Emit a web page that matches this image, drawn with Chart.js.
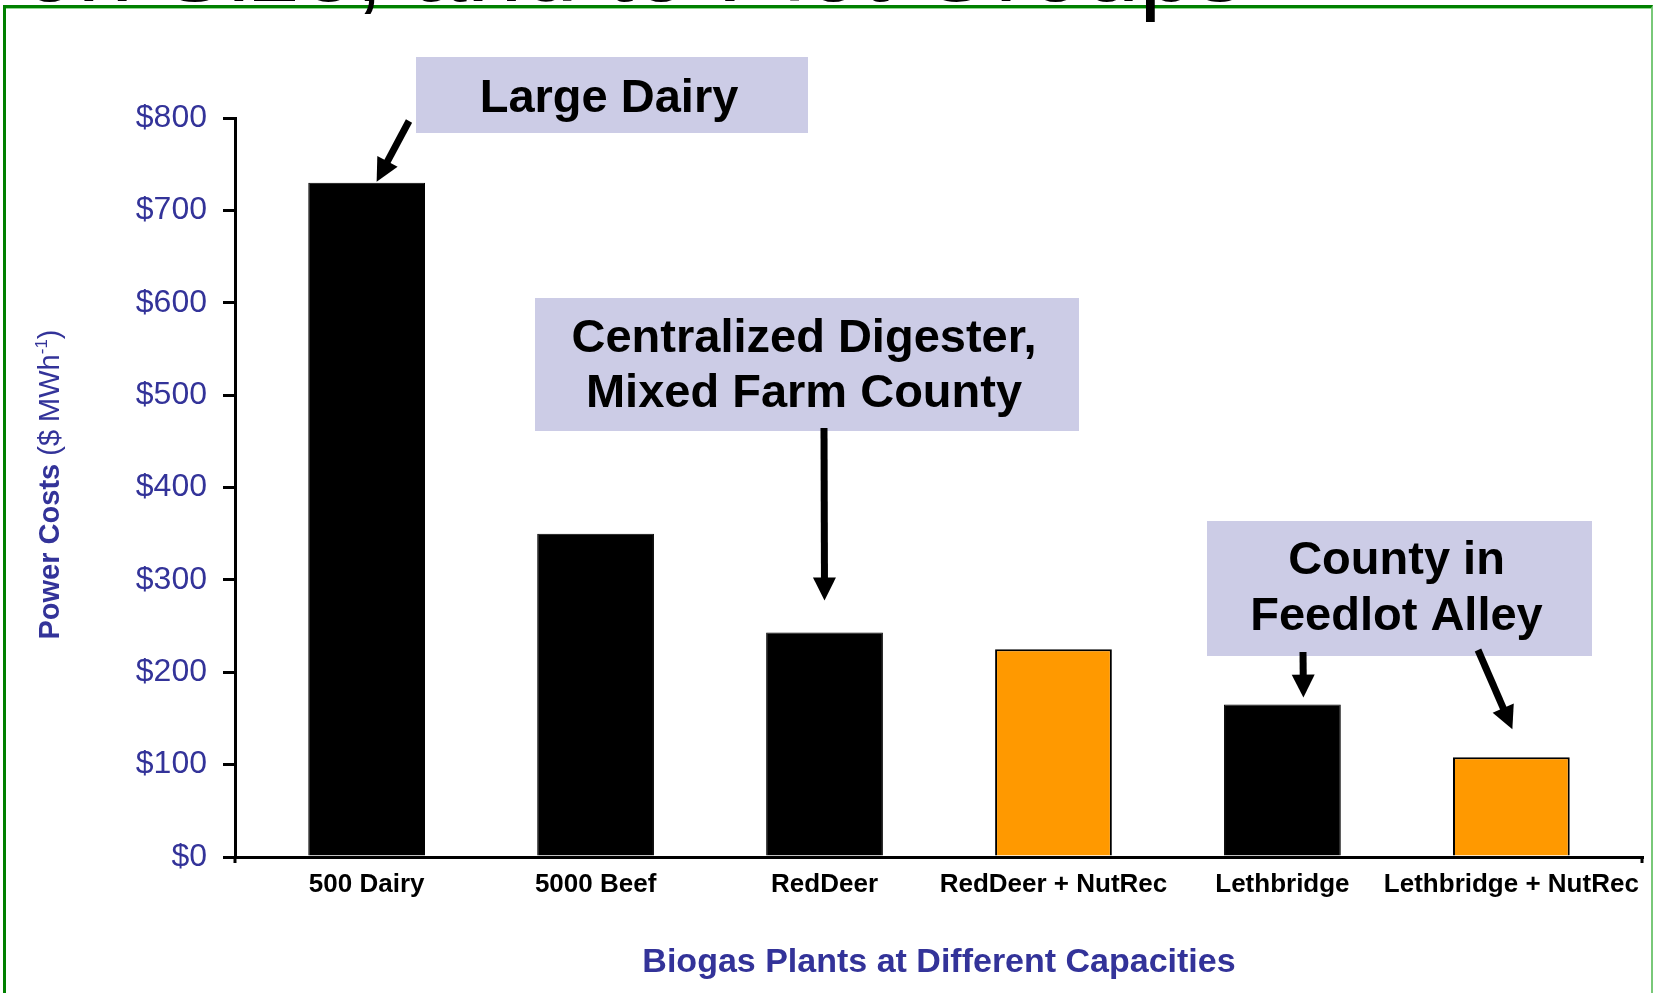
<!DOCTYPE html>
<html>
<head>
<meta charset="utf-8">
<script src="https://cdn.jsdelivr.net/npm/chart.js@4.4.1/dist/chart.umd.min.js"></script>
<style>
  html, body { margin: 0; padding: 0; background: #fff; }
  body { width: 1656px; height: 993px; position: relative; overflow: hidden; }
  #frame {
    position: absolute; left: 3px; top: 5px; width: 1650px; height: 1100px;
    box-sizing: border-box;
    border-top: 3px solid #008000; border-left: 3px solid #008000; border-right: 2px solid #79c879;
    box-shadow: inset 0 1px 0 #8fd88f;
  }
  #chart { position: absolute; left: 0; top: 0; }
  /* slide title, only its lower edge shows above the frame */
  #slideTitle {
    position: absolute; left: 22px; top: -84px;
    font: 100px/100px 'Liberation Sans', Arial, sans-serif; color: #000; white-space: nowrap;
  }
</style>
</head>
<body>
<div id="frame"></div>
<canvas id="chart" width="1656" height="993"></canvas>
<div id="slideTitle">on Size, and to Plot Groups</div>
<script>
// ── data ──
const categories = ['500 Dairy', '5000 Beef', 'RedDeer', 'RedDeer + NutRec', 'Lethbridge', 'Lethbridge + NutRec'];
const powerCosts = [730, 350, 243, 225, 165, 108];
const yMin = 0, yMax = 800, yStep = 100;

const FONT = "'Liberation Sans', Arial, sans-serif";
const BLUE = '#333399';
const LAVENDER = '#CCCCE6';

// nutrient-recovery options are drawn orange
const barFill = categories.map(c => c.includes('NutRec') ? '#FF9900' : '#000000');
const barBorder = categories.map(c => c.includes('NutRec') ? 2 : 1);

// call-out boxes (pixels) and arrows that point at bars (bar index + small offset)
const callouts = [
  { lines: ['Large Dairy'], box: [416, 57, 808, 133], textY: [99],
    arrows: [{ from: [409, 121], bar: 0, dx: 10, gap: 1 }] },
  { lines: ['Centralized Digester,', 'Mixed Farm County'], box: [535, 298, 1079, 431], textY: [339, 394],
    arrows: [{ from: [824, 428], bar: 2, dx: 0, gap: 32 }] },
  { lines: ['County in', 'Feedlot Alley'], box: [1207, 521, 1592, 656], textY: [561, 617],
    arrows: [{ from: [1303, 652], bar: 4, dx: 21, gap: 7 }, { from: [1478, 650], bar: 5, dx: 1, gap: 28 }] },
];

Chart.defaults.font.family = FONT;

function drawArrow(ctx, x0, y0, x1, y1) {
  const head = 23, half = 11.5;
  const len = Math.hypot(x1 - x0, y1 - y0);
  const ux = (x1 - x0) / len, uy = (y1 - y0) / len;
  const bx = x1 - ux * head, by = y1 - uy * head;
  ctx.strokeStyle = '#000'; ctx.fillStyle = '#000'; ctx.lineWidth = 7; ctx.lineCap = 'butt';
  ctx.beginPath(); ctx.moveTo(x0, y0); ctx.lineTo(bx + ux * 2, by + uy * 2); ctx.stroke();
  ctx.beginPath();
  ctx.moveTo(x1, y1);
  ctx.lineTo(bx - uy * half, by + ux * half);
  ctx.lineTo(bx + uy * half, by - ux * half);
  ctx.closePath(); ctx.fill();
}

const calloutPlugin = {
  id: 'callouts',
  afterDraw(chart) {
    const { ctx, scales: { x, y } } = chart;
    ctx.save();
    callouts.forEach(c => {
      const [l, t, r, b] = c.box;
      ctx.fillStyle = LAVENDER;
      ctx.fillRect(l, t, r - l, b - t);
      ctx.fillStyle = '#000';
      ctx.font = 'bold 47px ' + FONT;
      ctx.textAlign = 'center'; ctx.textBaseline = 'middle';
      c.lines.forEach((line, i) => ctx.fillText(line, (l + r) / 2 - 3, c.textY[i]));
      c.arrows.forEach(a => {
        const tx = x.getPixelForValue(a.bar) + a.dx;
        const ty = y.getPixelForValue(powerCosts[a.bar]) - a.gap;
        drawArrow(ctx, a.from[0], a.from[1], tx, ty);
      });
    });
    ctx.restore();
  }
};

// y title with bold / regular / superscript parts
const yTitlePlugin = {
  id: 'yTitle',
  afterDraw(chart) {
    const { ctx, chartArea } = chart;
    const parts = [
      { text: 'Power Costs', font: 'bold 29px ' + FONT, rise: 0 },
      { text: ' ($ MWh', font: '29px ' + FONT, rise: 0 },
      { text: '-1', font: '17px ' + FONT, rise: 12 },
      { text: ')', font: '29px ' + FONT, rise: 0 },
    ];
    ctx.save();
    let total = 0;
    parts.forEach(p => { ctx.font = p.font; p.w = ctx.measureText(p.text).width; total += p.w; });
    ctx.translate(59, (chartArea.top + chartArea.bottom) / 2 - 3);
    ctx.rotate(-Math.PI / 2);
    ctx.fillStyle = BLUE; ctx.textAlign = 'left'; ctx.textBaseline = 'alphabetic';
    let px = -total / 2;
    parts.forEach(p => { ctx.font = p.font; ctx.fillText(p.text, px, -p.rise); px += p.w; });
    ctx.restore();
  }
};

// small ticks below both ends of the category axis
const axisEndsPlugin = {
  id: 'axisEnds',
  afterDraw(chart) {
    const { ctx, chartArea } = chart;
    ctx.save();
    ctx.strokeStyle = '#000'; ctx.lineWidth = 3;
    [chartArea.left, chartArea.right - 1].forEach(xx => {
      ctx.beginPath(); ctx.moveTo(xx, chartArea.bottom); ctx.lineTo(xx, chartArea.bottom + 6); ctx.stroke();
    });
    ctx.restore();
  }
};

new Chart(document.getElementById('chart'), {
  type: 'bar',
  data: {
    datasets: [{
      data: powerCosts.map((v, i) => ({ x: i, y: v })),
      backgroundColor: barFill,
      borderColor: '#000',
      borderWidth: barBorder,
      categoryPercentage: 1,
      barPercentage: 0.51,
    }]
  },
  options: {
    responsive: false,
    animation: false,
    devicePixelRatio: 1,
    layout: { padding: { top: 118, right: 13, bottom: 0, left: 0 } },
    plugins: { legend: { display: false }, tooltip: { enabled: false } },
    scales: {
      x: {
        type: 'linear', min: -0.575, max: 5.575, offset: false,
        grid: { display: false },
        border: { display: true, color: '#000', width: 3 },
        afterBuildTicks: s => { s.ticks = categories.map((_, i) => ({ value: i })); },
        afterFit: s => { s.height = 136; },
        ticks: {
          autoSkip: false, maxRotation: 0, minRotation: 0, padding: 4,
          color: '#000', font: { size: 26, weight: 'bold' },
          callback: v => categories[v],
        },
        title: {
          display: true, text: 'Biogas Plants at Different Capacities', color: BLUE,
          font: { size: 34, weight: 'bold' }, padding: { top: 0, bottom: 10 },
        },
      },
      y: {
        min: yMin, max: yMax,
        afterFit: s => { s.width = 235; },
        grid: { display: true, drawOnChartArea: false, drawTicks: true, tickLength: 12, color: '#000', lineWidth: 3 },
        border: { display: true, color: '#000', width: 3 },
        ticks: {
          stepSize: yStep, padding: 16, color: BLUE, font: { size: 32 },
          callback: v => '$' + v,
        },
      },
    },
  },
  plugins: [calloutPlugin, yTitlePlugin, axisEndsPlugin],
});
</script>
</body>
</html>
